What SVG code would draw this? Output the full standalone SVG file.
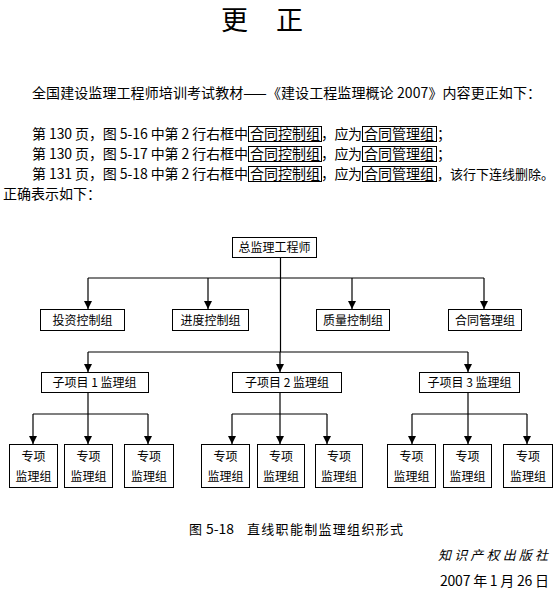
<svg xmlns="http://www.w3.org/2000/svg" width="559" height="598" viewBox="0 0 559 598">
<style>
text{font-family:"Noto Sans CJK SC","Noto Sans CJK JP",sans-serif;fill:#000}
.b{font-size:14px}
.l{font-size:12px;text-anchor:middle}
.box{fill:#fff;stroke:#000;stroke-width:1}
.ib{fill:none;stroke:#000;stroke-width:1}
#connectors path{stroke:#000;stroke-width:1.2;fill:none}
</style>
<defs>
<marker id="ah" markerUnits="userSpaceOnUse" markerWidth="8" markerHeight="8" refX="8" refY="4" orient="auto">
<path d="M0,0 L8,4 L0,8 z" fill="#000"/>
</marker>
</defs>
<rect width="559" height="598" fill="#fff"/>
<g id="header">
<text x="221" y="30" font-size="27">更</text>
<text x="276" y="30" font-size="27">正</text>
<text class="b" x="32" y="97.8" textLength="509" lengthAdjust="spacing">全国建设监理工程师培训考试教材——《建设工程监理概论 2007》内容更正如下：</text>
<text class="b" y="139.3"><tspan x="32" textLength="216" lengthAdjust="spacing">第 130 页，图 5-16 中第 2 行右框中</tspan><tspan x="250" textLength="70" lengthAdjust="spacing">合同控制组</tspan><tspan x="321" textLength="41" lengthAdjust="spacing">，应为</tspan><tspan x="364" textLength="70" lengthAdjust="spacing">合同管理组</tspan><tspan x="437">；</tspan></text>
<text class="b" y="159.3"><tspan x="32" textLength="216" lengthAdjust="spacing">第 130 页，图 5-17 中第 2 行右框中</tspan><tspan x="250" textLength="70" lengthAdjust="spacing">合同控制组</tspan><tspan x="321" textLength="41" lengthAdjust="spacing">，应为</tspan><tspan x="364" textLength="70" lengthAdjust="spacing">合同管理组</tspan><tspan x="437">；</tspan></text>
<text class="b" y="179.3"><tspan x="32" textLength="216" lengthAdjust="spacing">第 131 页，图 5-18 中第 2 行右框中</tspan><tspan x="250" textLength="70" lengthAdjust="spacing">合同控制组</tspan><tspan x="321" textLength="41" lengthAdjust="spacing">，应为</tspan><tspan x="364" textLength="70" lengthAdjust="spacing">合同管理组</tspan><tspan x="437" font-size="13">，该行下连线删除。</tspan></text>
<rect class="ib" x="248.5" y="126.5" width="73" height="15"/>
<rect class="ib" x="362.5" y="126.5" width="74" height="15"/>
<rect class="ib" x="248.5" y="146.5" width="73" height="15"/>
<rect class="ib" x="362.5" y="146.5" width="74" height="15"/>
<rect class="ib" x="248.5" y="166.5" width="73" height="15"/>
<rect class="ib" x="362.5" y="166.5" width="74" height="15"/>
<text class="b" x="3" y="199.3">正确表示如下：</text>
</g>
<g id="connectors">
<path d="M280.5,257 V352"/>
<path d="M88,278 H484"/>
<path d="M88,278 V309" marker-end="url(#ah)"/>
<path d="M208,278 V309" marker-end="url(#ah)"/>
<path d="M352,278 V309" marker-end="url(#ah)"/>
<path d="M484,278 V309" marker-end="url(#ah)"/>
<path d="M88,352 H468"/>
<path d="M88,352 V372" marker-end="url(#ah)"/>
<path d="M280,352 V372" marker-end="url(#ah)"/>
<path d="M468,352 V372" marker-end="url(#ah)"/>
<path d="M88,392 V414"/>
<path d="M33,414 H148"/>
<path d="M33,414 V444" marker-end="url(#ah)"/>
<path d="M88,414 V444" marker-end="url(#ah)"/>
<path d="M148,414 V444" marker-end="url(#ah)"/>
<path d="M280,392 V414"/>
<path d="M232,414 H327"/>
<path d="M232,414 V444" marker-end="url(#ah)"/>
<path d="M280,414 V444" marker-end="url(#ah)"/>
<path d="M327,414 V444" marker-end="url(#ah)"/>
<path d="M468,392 V414"/>
<path d="M412,414 H527"/>
<path d="M412,414 V444" marker-end="url(#ah)"/>
<path d="M468,414 V444" marker-end="url(#ah)"/>
<path d="M527,414 V444" marker-end="url(#ah)"/>
</g>
<g id="n-chief"><rect class="box" x="232.5" y="237.5" width="84" height="20"/><text class="l" x="274.5" y="252">总监理工程师</text></g>
<g id="n-invest"><rect class="box" x="40.5" y="309.5" width="84" height="21"/><text class="l" x="82.5" y="324.5">投资控制组</text></g>
<g id="n-progress"><rect class="box" x="172.5" y="309.5" width="76" height="21"/><text class="l" x="210.5" y="324.5">进度控制组</text></g>
<g id="n-quality"><rect class="box" x="316.5" y="309.5" width="73" height="21"/><text class="l" x="353" y="324.5">质量控制组</text></g>
<g id="n-contract"><rect class="box" x="448.5" y="309.5" width="73" height="21"/><text class="l" x="485" y="324.5">合同管理组</text></g>
<g id="n-sub1"><rect class="box" x="41.5" y="372.5" width="107" height="20"/><text class="l" x="94.5" y="386.5">子项目 1 监理组</text></g>
<g id="n-sub2"><rect class="box" x="232.5" y="372.5" width="109" height="20"/><text class="l" x="287" y="386.5">子项目 2 监理组</text></g>
<g id="n-sub3"><rect class="box" x="419.5" y="372.5" width="100" height="20"/><text class="l" x="469.5" y="386.5">子项目 3 监理组</text></g>
<g id="n-s11"><rect class="box" x="9.5" y="444.5" width="48" height="43"/><text class="l" x="33.5" y="460.5">专项</text><text class="l" x="33.5" y="480.5">监理组</text></g>
<g id="n-s12"><rect class="box" x="64.5" y="444.5" width="48" height="43"/><text class="l" x="88.5" y="460.5">专项</text><text class="l" x="88.5" y="480.5">监理组</text></g>
<g id="n-s13"><rect class="box" x="124.5" y="444.5" width="49" height="43"/><text class="l" x="149" y="460.5">专项</text><text class="l" x="149" y="480.5">监理组</text></g>
<g id="n-s21"><rect class="box" x="201.5" y="444.5" width="48" height="43"/><text class="l" x="225.5" y="460.5">专项</text><text class="l" x="225.5" y="480.5">监理组</text></g>
<g id="n-s22"><rect class="box" x="257.5" y="444.5" width="47" height="43"/><text class="l" x="281" y="460.5">专项</text><text class="l" x="281" y="480.5">监理组</text></g>
<g id="n-s23"><rect class="box" x="315.5" y="444.5" width="47" height="43"/><text class="l" x="339" y="460.5">专项</text><text class="l" x="339" y="480.5">监理组</text></g>
<g id="n-s31"><rect class="box" x="387.5" y="444.5" width="48" height="43"/><text class="l" x="411.5" y="460.5">专项</text><text class="l" x="411.5" y="480.5">监理组</text></g>
<g id="n-s32"><rect class="box" x="443.5" y="444.5" width="48" height="43"/><text class="l" x="467.5" y="460.5">专项</text><text class="l" x="467.5" y="480.5">监理组</text></g>
<g id="n-s33"><rect class="box" x="503.5" y="444.5" width="49" height="43"/><text class="l" x="528" y="460.5">专项</text><text class="l" x="528" y="480.5">监理组</text></g>
<g id="footer">
<text font-size="13" y="534"><tspan x="189">图</tspan><tspan x="206" textLength="28" lengthAdjust="spacingAndGlyphs">5-18</tspan><tspan x="247" textLength="156" lengthAdjust="spacing">直线职能制监理组织形式</tspan></text>
<text font-size="13" x="438" y="560" font-style="italic" textLength="110" lengthAdjust="spacing">知识产权出版社</text>
<text class="b" x="440" y="586" textLength="109" lengthAdjust="spacing">2007 年 1 月 26 日</text>
</g>
</svg>
